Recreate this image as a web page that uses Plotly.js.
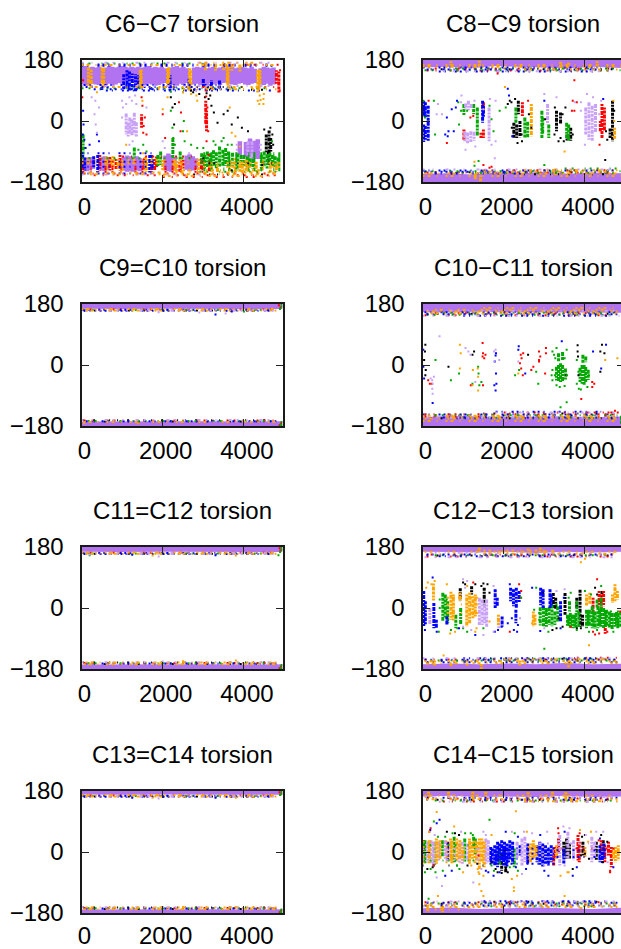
<!DOCTYPE html>
<html><head><meta charset="utf-8">
<script src="https://cdn.plot.ly/plotly-3.0.1.min.js"></script>
<style>html,body{margin:0;padding:0;background:#fff;overflow:hidden}#g{width:700px;height:949px}</style>
</head><body><div id="g"></div>
<script>
const titles=['C6\u2212C7 torsion','C8\u2212C9 torsion','C9=C10 torsion','C10\u2212C11 torsion','C11=C12 torsion','C12\u2212C13 torsion','C13=C14 torsion','C14\u2212C15 torsion'];
const xTicks=[0,2000,4000];
const yTicks=[-180,0,180];
const colors={purple:'#b273f0',lilac:'#c9a2f7',black:'#000000',red:'#ff0000',green:'#00a800',blue:'#0000ff',orange:'#ffa500'};

const p1_purpleCols=[30,108,160,110,104,162,190,106,158,270,110,160,350,108,158,430,106,160,510,112,156,600,106,158,680,110,162,760,104,160,840,108,158,920,112,160,1000,110,162,1080,118,160,1160,120,158,1240,122,160,1320,112,158,1400,110,160,1500,108,158,1580,106,160,1660,110,162,1740,108,158,1820,104,160,1900,106,158,1980,110,160,2060,112,156,2190,108,158,2270,106,160,2350,104,162,2430,110,158,2510,106,160,2590,112,156,2770,108,158,2850,110,160,2930,106,158,3010,108,162,3090,104,156,3170,112,158,3250,108,160,3330,110,156,3410,106,158,3490,112,160,3560,114,156,3630,110,158,3710,108,160,3790,106,156,3870,110,158,3950,112,160,4030,108,158,4110,106,156,4190,110,160,4270,112,154,4410,108,156,4490,106,160,4570,110,158,4650,104,156,4730,108,158,
60,-142,-112,130,-148,-108,210,-146,-106,280,-140,-112,500,-146,-108,570,-148,-104,640,-144,-112,1040,-146,-106,1120,-150,-102,1200,-148,-104,1280,-150,-108,1360,-146,-104,1440,-148,-110,1510,-144,-112,2070,-146,-102,2140,-148,-96,2210,-150,-100,2290,-146,-106,2590,-144,-102,2660,-148,-98,2740,-146,-104,2820,-142,-110,3900,-60,-100,4050,-62,-106,4150,-52,-108,4240,-58,-112,4340,-54,-112];
const p1_orangeCols=[170,104,158,240,100,152,510,102,165,545,100,158,1450,96,150,1470,100,152,2120,100,160,2150,104,158,2660,90,156,2690,96,150,3590,110,164,3610,104,158,4340,84,150,4375,96,155,4395,100,150,3050,150,172,3300,148,172,3500,150,170,3700,148,168,3900,146,170,780,-104,-140,1570,-106,-146,2280,-114,-150,2880,-112,-152,2340,-118,-150,3650,-116,-150,3780,-110,-156,3900,-118,-150,3960,-120,-154,4050,-114,-150,4110,-118,-150,4300,-120,-150,4450,-114,-146,4650,-120,-152,4800,-125,-150,1600,-112,-150,3200,-125,-150,3350,-130,-152,620,-105,-145,900,-112,-140,1000,-115,-150,2000,-115,-145,2460,-120,-150];
const p1_blueCols=[1040,94,138,1120,96,150,1180,90,146,1250,100,140,1330,88,138,1400,96,135,2180,96,136,2650,92,125,3000,100,125,3200,92,120,3400,96,122,30,-100,-152,80,-108,-146,300,-104,-140,400,-100,-152,1680,-100,-152,1740,-116,-142,2180,106,90,1700,100,92,500,100,90,1720,-100,-150];
const p1_redCols=[450,-100,-146,700,-106,-146,850,-112,-142,950,-100,-146,1550,-110,-140,1850,-105,-136,2500,-114,-140,2950,-110,-146,3150,-116,-150,4800,110,150,4860,84,146,1480,-20,20,3080,-30,30,3060,60,-10,1800,-112,-145,2420,-120,-150];
const p1_greenCols=[2960,-95,-130,3030,-100,-140,3100,-90,-136,3170,-95,-135,3250,-86,-132,3320,-92,-140,3400,-75,-136,3480,-85,-134,3550,-80,-132,3620,-90,-136,3720,-94,-132,3850,-96,-140,3930,-100,-135,4000,-100,-136,4080,-105,-145,4150,-110,-136,4220,-112,-140,4430,-100,-140,4500,-90,-132,4570,-98,-140,4640,-94,-130,4700,-100,-135,4770,-104,-136,4840,-108,-135,1300,-78,-108,2250,-50,-110,1950,-90,-130,40,-40,-100,1880,-100,-135,2430,-90,-115];
const p1_lilacCols=[1150,-5,-46,1190,10,-40,1240,5,-42,1290,-2,-40,1350,-4,-46,1100,22,-40,1300,24,-10,4100,-60,-100,4200,-60,-110];
const p1_blackCols=[4550,-40,-92,4620,-28,-96,4600,-90,-130,4660,-50,-90];
const p1_black=[2200,70,2240,40,2280,-10,2300,50,2700,90,2750,85,2900,80,3040,70,3080,82,3130,65,3170,75,3200,45,3260,25,3350,-5,3700,-10,3600,30,3500,20,3850,10,3950,-20,4100,-30,4500,-25,4650,-20,4700,-40,4720,-70,3000,-110,3150,-125,4450,-130,3700,-145];
const p1_red=[1480,70,1500,45,1490,5,1530,-15,1560,10,1520,-35,1600,-40,3060,90,3070,72,3100,40,3120,-30,3080,-60,3130,-100,2400,55,2450,25,2440,-30,2000,20,2060,-50,40,120,20,70,4880,90,4870,120,4890,150,3000,100];
const p1_blue=[40,30,50,-10,30,-40,70,-55,100,-80,200,-70,380,-40,430,-60];
const p1_green=[50,-60,60,-80,1400,-85,1520,-70,1600,-90,2200,30,2240,-20,2260,-50,2300,-70,2500,-30,2520,0,2540,-60,2700,-70,2850,-80,3000,-80,3250,-60,3300,-70,3450,-60,3500,-50,3600,-70,3700,-70,4690,-60,2500,85,2200,86];
const p1_orange=[380,85,2120,70,2500,85,2700,80,2830,75,2850,60,3650,40,3700,-35,3790,-45,3900,-75,4390,75,4340,60,4380,50,4410,62,4480,65,4480,50,4490,80,2600,-30,1500,60,1900,95,2000,35,1100,-70,1520,-95];
const p1_lilac=[250,70,340,60,430,40,320,20,350,-10,380,-35,1000,60,1020,40,1000,10,1100,50,1180,70,1240,60,1320,75,1350,50,1260,-60,1180,-70,1600,40,2820,90,2000,-60,2050,-80,2650,-95];
const p1_blueF=[0,4800,163,0,4600,167,100,3700,100,300,3600,94,50,3500,106,0,1900,-95,0,1900,-155,600,4700,90,0,1900,-120,0,1900,-135];
const p1_orangeF=[0,4800,165,200,4700,100,2900,4400,172,2500,4800,94,50,4800,-152,200,4800,-157,2000,4800,-162,2500,4500,-145,0,2900,-125,0,2900,-115,3000,4900,-135,3000,4900,-125];
const p1_greenF=[0,3000,170,0,4800,97,2900,4900,-150,3000,4900,-145,3000,4900,-100,3000,4900,-95,3000,4900,-110,3000,4900,-120,3000,4900,-130,3000,4900,-140,3000,4900,-115,3000,4900,-105,0,2900,-110];
const p1_redF=[3500,4900,166,4500,4950,100,50,4800,-155,300,4800,-160,2000,4700,-165,0,3000,-150,0,3000,-120,1000,3000,-105,0,3000,-135,0,3000,-142];
const p1_blackF=[2500,4800,92,2500,4700,-158,2000,4500,100,3000,4800,-125];
const p1_lilacF=[0,4800,172,0,3000,-158,0,4800,103,3800,4500,-85,3800,4500,-70];

const p2_upX=[0,600,1200,1800,2400,3000,3600,4200,4950];
const p2_upLo=[158,160,156,162,160,158,156,160,156];
const p2_dnHi=[-156,-154,-158,-152,-154,-150,-156,-152,-154];
const p2_blackCols=[2250,-5,-52,2320,-10,-50,2400,0,-48,2360,60,20,3650,-20,-58,3560,-40,-60,4680,60,-60,4620,-22,-50,3300,30,-30,3400,25,-10];
const p2_redCols=[1020,-25,-55,1500,-25,-50,1500,25,55,2460,55,15,4420,50,-50,4480,40,-30,4380,0,-30,1440,-35,-50];
const p2_greenCols=[2520,10,-52,2590,-2,-48,2940,30,-50,3110,-10,-50,3550,-5,-50,1020,50,15,1260,50,20,1350,40,-45,2300,40,-5,2960,10,-40,3600,-10,-60];
const p2_blueCols=[30,60,12,30,-10,-62,70,55,10,70,-15,-55,140,45,-58,1480,60,-5,1500,45,10,50,40,20];
const p2_lilacCols=[1060,52,35,1130,60,32,1200,50,35,1040,-30,-60,1110,-34,-66,1190,-30,-62,1270,-32,-58,4020,40,-40,4100,55,-55,4180,45,-60,4260,50,-35,1640,40,-60,3080,50,-10];
const p2_orangeCols=[2680,50,-45,4730,-20,-55,700,176,165,1400,178,160,3400,175,158,3600,172,160,4300,176,160,1300,-155,-172,3280,-140,-160,3600,-145,-158,1430,-160,-178];
const p2_black=[2100,50,2150,60,2190,55,2280,65,2340,-65,2450,-60,2200,-20,2440,-40,3450,20,3520,40,3480,-60,3700,-40,4550,-55,4520,-30,3400,-50,3350,-60,4500,-115,2620,20,2680,-20,3020,5,3260,40,3250,-40,4720,30];
const p2_red=[150,60,3740,120,3700,60,3740,30,3680,30,3800,55,4360,-70,1180,10,1250,15,2600,60,600,-65,1500,-130,1650,-138,1700,-135,1850,140];
const p2_green=[20,60,60,10,280,60,310,-40,900,-10,950,30,880,55,1100,30,1650,45,1700,5,1750,-30,1900,30,2050,40,1280,-132,1380,-118,3000,-130,4930,-150,4930,-165,4930,-175,4930,175,4930,168];
const p2_blue=[600,10,640,-30,770,-30,720,35,560,-40,620,-45,820,40,850,60,2100,95,2130,75,2210,-45,3000,60,4450,65];
const p2_orange=[2030,100,3500,-90,4700,60,4720,0,1280,-120];
const p2_lilac=[960,75,950,55,1280,60,1500,35,1660,65,1800,60,3000,80,3300,70,3900,55,4050,80,4200,70,4350,20,4400,60,3750,55,1060,-85,1300,-75,1700,-70,1800,-60,1780,-110,4000,-70,3900,30,480,20,380,50,350,20];
const p2_blueF=[100,4600,152,400,4300,146,0,4800,158,50,3000,-150,0,4800,-146,300,2500,-155];
const p2_orangeF=[0,4900,160,0,4900,165,2500,4800,152,50,4900,-155,1500,4800,-150,2500,4800,-145,0,4900,-162];
const p2_greenF=[50,4900,150,800,4800,155,50,4900,-148,800,4800,-153,3500,4950,-140];
const p2_redF=[100,4700,149,300,4600,155,100,4600,-152,1500,4800,-145];
const p2_blackF=[200,4700,153,50,4700,-151,2500,4500,-157];
const p2_lilacF=[500,4800,147,0,4800,-143];

const p3_upX=[0,1000,2000,3000,4000,4950];
const p3_upLo=[166,165,166,165,166,165];
const p3_dnHi=[-167,-166,-167,-166,-167,-166];
const p3_red=[4860,176,4900,170,4920,-172,4880,-178];
const p3_green=[4890,165,4930,172,4930,178,4900,-176,4930,-168,4930,-178,4000,158];
const p3_blue=[3300,149,3700,158];
const p3_orange=[60,-172,1400,-172];
const p3_black=[];
const p3_lilac=[1900,156,2900,155,3550,152];
const p3_blueF=[20,4800,163,100,4800,-166,50,4700,160];
const p3_orangeF=[0,4800,165,50,4800,-168,100,4800,161];
const p3_greenF=[80,4700,162,150,4700,-165];
const p3_redF=[200,4800,164,50,4800,-164];
const p3_blackF=[60,4700,161,40,4800,-163,300,4500,-167];
const p3_lilacF=[100,4800,163,0,4800,-162,100,4800,160];

const p4_upX=[0,700,1400,2100,2800,3500,4200,4950];
const p4_upLo=[156,155,158,155,156,157,155,154];
const p4_dnHi=[-154,-150,-152,-154,-152,-151,-154,-152];
const p4_greenCols=[3300,-5,-46,3350,0,-50,3400,5,-50,3450,0,-48,3520,-10,-44,3350,35,10,3450,38,15,3880,-8,-50,3930,0,-55,3980,0,-58,4020,-6,-50,4080,-14,-44,3950,30,5,4020,25,8,4930,170,146,4930,-146,-175,4900,-150,-175];
const p4_orangeCols=[];
const p4_blueCols=[];
const p4_red=[1480,65,1490,35,1480,25,1520,20,1550,30,2420,30,2480,35,2400,5,2440,20,2870,40,2900,25,2870,15,2870,10,2730,-5,3040,50,3040,35,2430,-10,2470,-30,2680,-15,140,-45,180,-55,230,-55,1190,-60,1490,-60,3020,-25,4180,-50,4230,-55,4180,-65,3910,-100,4580,-140,4650,-140,4740,-135];
const p4_black=[60,40,70,60,80,-15,70,-30,40,15,640,-5,1230,30,1270,40,3540,-30,3820,58,3820,40,3830,25,3840,-30,4380,40,4420,60,4480,35,4380,-20,2600,30];
const p4_lilac=[420,85,280,-35,240,-45,250,-55,240,-70,250,-85,200,-40,1060,50,1130,40,1180,30,1890,15,1800,45,1770,10,2360,10,1300,-50,1760,40];
const p4_green=[320,15,700,-45,900,-25,1230,-55,1370,-5,1380,-25,1450,-50,1400,-60,2280,-30,2380,-15,2800,-20,2850,-55,3200,-45,3200,-15,3180,-30,3200,40,3240,30,3270,20,3500,20,3800,15,3800,-55,3900,-72,3550,-110,3400,-125,3300,-60,3380,-65,3500,-62,3260,-30,3560,-30,3850,-70,4060,-65,3840,-20,4100,-30,3300,50,3550,45];
const p4_blue=[20,-5,40,-40,20,45,250,-112,1800,-75,1820,-55,1770,-60,1810,-25,1780,10,1800,28,1810,35,2360,45,2370,55,2530,-25,3430,70,4200,40,4400,-10,4520,60];
const p4_orange=[920,60,940,35,920,-10,1240,-15,1360,-10,1370,-35,1370,-75,1230,-60,2360,-25,4500,15,4800,20];
const p4_blueF=[100,4800,150,50,4800,156,1000,4600,145,0,4800,-146,500,4800,-155,1800,4400,-138];
const p4_orangeF=[100,4800,158,300,4800,163,200,4800,152,1500,4800,168,0,4800,-150,50,4800,-158,0,4800,-165,600,4700,-153];
const p4_greenF=[100,4900,148,500,4800,154,300,4800,-148,1000,4800,-156];
const p4_redF=[50,4700,147,300,4500,153,50,4900,-145,2000,4950,-140,50,4800,-152];
const p4_blackF=[100,4700,151,50,4800,-149,1500,4500,-143,200,4800,-157];
const p4_lilacF=[0,4900,145,1800,4800,-140,100,4800,-155,100,4800,160];

const p5_upX=[0,1000,2000,3000,4000,4950];
const p5_upLo=[166,165,166,165,166,165];
const p5_dnHi=[-167,-166,-167,-166,-167,-166];
const p5_red=[4880,176,4900,170,4920,-172,4880,-178];
const p5_green=[4890,165,4930,172,4930,178,4900,-176,4930,-168,4930,-178,200,156,4850,156];
const p5_blue=[1250,157,3300,156];
const p5_orange=[1750,155,3800,155,2500,-157,3800,-155];
const p5_black=[];
const p5_lilac=[1900,152,200,158,2000,-158];
const p5_blueF=[20,4800,162,100,4800,-164,50,4700,159];
const p5_orangeF=[0,4800,164,50,4800,-166,100,4800,160,100,4800,-161];
const p5_greenF=[80,4700,161,150,4700,-163];
const p5_redF=[200,4800,163,50,4800,-162];
const p5_blackF=[60,4700,160,40,4800,-161,300,4500,-165];
const p5_lilacF=[100,4800,162,0,4800,-160,100,4800,159];

const p6_upX=[0,700,1400,2100,2800,3500,4200,4950];
const p6_upLo=[166,165,164,166,162,166,164,166];
const p6_dnHi=[-166,-164,-166,-164,-166,-162,-166,-164];
const p6_blackCols=[930,58,22,1210,64,40,1520,60,10,3220,44,0,3510,44,-20,3280,30,-5,3880,54,-56,3940,-20,-56,4420,50,10,3800,30,0,2960,50,40];
const p6_redCols=[4350,50,5,4460,50,5,4400,40,0,4200,30,-10,4500,-50,-76];
const p6_greenCols=[500,45,-40,560,40,-30,620,20,-45,2900,2,-52,2980,5,-55,3050,0,-55,3120,2,-50,3190,10,-54,3260,-10,-50,3330,5,-40,3570,-20,-55,3640,-15,-58,3710,-20,-60,3780,-15,-58,3850,-10,-56,4040,-5,-60,4110,-5,-55,4180,5,-60,4250,-10,-62,4320,5,-60,4390,0,-55,4460,0,-60,4530,-5,-55,4600,-10,-60,4670,-15,-62,4740,-15,-55,4810,-15,-60,4880,-10,-55,820,-20,-60,940,0,-50,4400,30,0,4300,25,0,3800,20,-15,3620,20,-10,3600,-25,-50,3680,-20,-52,3750,-22,-55,4080,-10,-50,4220,-10,-55,4360,-5,-50,4500,-10,-55,4640,-15,-55,4780,-12,-50];
const p6_blueCols=[30,50,-54,70,20,-50,280,15,-60,340,-35,-60,600,-25,-50,1790,55,0,1840,30,5,2170,60,20,2240,55,5,2310,60,0,2380,50,15,2910,60,8,2970,55,0,3140,55,0,3170,40,5,3400,20,-40,1960,-25,-55,2300,-5,-45];
const p6_orangeCols=[270,72,22,700,48,-35,760,40,-40,1090,40,-55,1160,45,-45,1240,35,-30,1300,40,-25,920,45,20,2730,-10,-55,2770,-20,-50,4040,40,5,4120,45,10,4740,70,20,4800,50,25,4680,40,15,1870,-20,-50,1400,178,165,2000,170,160,2600,175,160,2900,178,165,3000,170,160,3200,172,160,130,-160,-170,300,-155,-170,700,-165,-175,1100,-155,-170,1450,-165,-180,2400,-155,-170,3600,-160,-175];
const p6_lilacCols=[1470,25,-50,1530,10,-45,1580,25,-55,180,0,-50,1880,-30,-60,1400,30,-50];
const p6_black=[1000,75,1050,70,1450,65,1500,72,1600,70,1650,45,3900,-60,4250,60,4300,40,3800,-60,3300,-60,3200,-65,3350,-30,3450,-55,1300,70];
const p6_red=[2420,30,2430,50,2380,70,1250,75,2150,-70,3650,-55,4300,85,4200,-70,4250,-78,4350,-75,4550,-70,4870,-10,4930,100,4930,175,4930,-170,4940,-175];
const p6_blue=[60,-65,250,90,350,-70,900,-60,1780,-70,1860,-65,1950,-55,2100,-45,2200,-30,2250,-65,2350,-50,2330,-70,2150,70,2700,60,2900,-68,3400,-60,3480,30,1300,-80];
const p6_green=[400,-70,700,-65,860,-60,1000,-60,1100,-70,1500,-60,2430,30,2750,-5,2800,60,3100,-70,3600,30,3650,45,4000,50,4150,40,4400,65,4100,-70,4300,-65,4700,-70,3800,-65,3300,10,3000,-120];
const p6_orange=[300,80,90,60,130,75,220,70,600,70,680,-75,800,-70,1100,65,2700,-45,520,-140,4100,-110,3900,135,4000,145,1300,-70,1330,-60,1650,-40];
const p6_lilac=[1000,85,1100,80,1050,60,1750,65,1780,20,1500,-80,1750,-70,1200,-65,1000,-55,2400,-30,3300,50,3500,55,3000,-60];
const p6_blueF=[100,4700,158,400,4000,153,100,4800,-160,50,4800,-153,1000,4500,-148];
const p6_orangeF=[50,4800,166,1500,4800,160,100,4800,-163,50,4800,-157,2000,4500,-152,1500,3000,170,600,1400,30,600,1400,10,600,1400,-15];
const p6_greenF=[300,4600,156,200,4800,-155,1500,4600,-150,2850,3350,-15,2850,3350,-35,3570,4900,-25,3570,4900,-40,3570,4900,-50,4000,4900,-10,400,700,25,400,700,0];
const p6_redF=[100,4700,152,200,4800,158,50,4800,-152,3800,4900,-147];
const p6_blackF=[100,4700,155,200,4600,-156,1500,4500,-150];
const p6_lilacF=[50,4800,150,0,4800,-148,300,4700,163];

const p7_upX=[0,1000,2000,3000,4000,4950];
const p7_upLo=[170,169,170,169,170,169];
const p7_dnHi=[-170,-169,-170,-169,-170,-169];
const p7_red=[4880,176,4900,170,4920,-172,4880,-178];
const p7_green=[4890,168,4930,172,4930,178,4900,-176,4930,-170,4930,-178];
const p7_blue=[1250,160,3300,160];
const p7_orange=[1750,160,3800,160,2500,-162,3800,-162];
const p7_black=[];
const p7_lilac=[1900,158,2000,-162];
const p7_blueF=[20,4800,166,100,4800,-167,50,4700,163];
const p7_orangeF=[0,4800,168,50,4800,-169,100,4800,164,100,4800,-164];
const p7_greenF=[80,4700,165,150,4700,-166];
const p7_redF=[200,4800,167,50,4800,-165];
const p7_blackF=[60,4700,164,40,4800,-164,300,4500,-168];
const p7_lilacF=[100,4800,166,0,4800,-163,100,4800,163];

const p8_upX=[0,700,1400,2100,2800,3500,4200,4950];
const p8_upLo=[164,166,162,164,162,166,162,164];
const p8_dnHi=[-166,-164,-168,-166,-164,-166,-168,-164];
const p8_blackCols=[30,35,-30,3480,30,-10,3550,40,-20,3620,25,-20,3950,30,-10,4450,35,-15,4280,30,-25,1880,0,-25,1950,-5,-55,2050,-30,-60,2020,10,-25];
const p8_redCols=[3350,40,-5,3260,15,-20,3830,50,-25,3860,30,-30,4400,35,-5,4490,20,-30,4650,15,-45,4580,30,-10,3230,-10,-40];
const p8_greenCols=[60,35,-35,300,30,-40,490,35,-15,780,45,-30,1040,40,-30,1300,40,-10,1260,45,20,1900,10,-40,2260,10,-45];
const p8_blueCols=[1680,15,-30,1780,20,-40,1850,30,-45,1950,35,-30,2020,30,-25,2080,25,-45,2150,35,-20,2220,30,-35,2590,25,-35,2820,20,-30,2890,30,-40,2960,25,-45,3030,20,-35,3100,10,-40,3170,20,-30,2400,20,-10,3480,10,-35,4370,20,-30,4470,25,-15,4430,0,-35,620,30,-25,1720,10,-35,1810,5,-35,1900,25,-25,2000,15,-40,2120,10,-30];
const p8_lilacCols=[130,30,-30,210,35,-35,270,30,-40,400,30,-25,560,35,-20,900,25,-30,980,30,-35,1110,25,-25,1560,40,-35,1620,35,-30,2450,40,-40,2520,45,-30,3380,50,-40,3580,60,-20,3720,35,-25,4170,45,-30,4240,30,-20,2330,30,-20];
const p8_orangeCols=[170,35,-20,340,40,-35,430,35,-20,690,40,-25,720,30,-30,840,40,-25,920,35,-20,1000,15,-25,1160,40,-35,1230,30,-20,1330,30,-25,1400,40,-50,1460,40,-30,1520,30,-45,2660,25,-30,2730,35,-20,2800,20,-15,3300,20,-20,4000,15,-15,4750,15,-30,4820,20,-25,4700,10,-20,150,178,160,640,178,155,1240,178,150,1560,178,150,2600,176,155,3200,178,160,3530,176,150,500,-150,-178,1140,-160,-170,130,-155,-175,3900,-162,-172];
const p8_black=[600,60,800,55,900,50,1700,-30,1800,-50,1850,-60,1950,-62,2100,-60,2050,-50,3900,-10,3930,45,4000,-5,4400,50,4440,-30,4550,30,4100,-20,250,-45,120,-50,1350,-35,4950,-5,4000,50,3700,-50];
const p8_red=[280,-40,200,70,170,60,1380,-10,3340,70,3350,55,3870,55,3820,10,4340,35,4620,-60,4620,-55];
const p8_green=[60,-60,200,-50,320,-60,500,-55,380,45,560,45,740,55,1050,55,1190,55,1240,50,850,-40,910,-50,1700,-40,1760,-55,2150,-45,280,90,1650,95,2270,55,2350,-55,150,-138,4930,-150,4930,-165,4930,-178,4930,165,4930,172,4930,178];
const p8_blue=[350,85,420,95,190,65,720,-55,560,-70,1560,-55,1620,-60,1750,-70,1900,-60,2050,60,2300,-45,2350,45,2550,-50,2900,50,3000,-55,3500,60,3800,-45,3100,-70,4370,40,4700,-45,3700,-70];
const p8_orange=[350,118,160,60,780,75,1000,-60,1360,-50,1200,-40,1380,-60,1700,50,2200,-80,2250,-105,2330,-70,2570,60,3570,-60,3600,-60,4150,60,4080,30,3880,65,3400,-70,1400,-95,1500,-70,1400,-65,2300,120,380,-130,2250,-115,1500,-130,1450,-115,3500,-130];
const p8_lilac=[300,50,950,60,1500,60,1560,50,2200,60,2500,60,2700,55,3070,60,3470,75,3620,70,4020,50,4280,60,4450,60,1450,-50,2450,-65,3000,-40,3500,-40,4560,-30,350,-75,1250,-90,480,-100];
const p8_blueF=[100,4800,160,1000,4600,154,50,4800,-158,100,4800,-150,1500,4500,-145,1650,3300,10,1650,3300,-5,1650,3300,-20,1650,3300,-35,3300,4600,5,3300,4600,-15];
const p8_orangeF=[50,4700,166,100,4800,156,100,4800,-162,50,4800,-155,300,1000,-170,2500,4800,150,0,1600,30,0,1600,15,0,1600,0,0,1600,-15,0,1600,-30,2600,3000,15,2600,3000,-10];
const p8_greenF=[300,4700,152,200,4800,-152,1500,4600,-160,0,1400,20,0,1400,-25];
const p8_redF=[100,4700,158,500,4700,149,50,4800,-148,1200,4800,-155,3200,4800,10];
const p8_blackF=[100,4700,154,200,4600,-153,1500,4500,-147,0,1500,-40];
const p8_lilacF=[50,4800,162,400,4800,148,0,4800,-160,100,4800,-146,0,1600,8,0,1600,-8,0,1600,-22,2300,4400,25];

function group(black,red,green,blue,orange,lilac){const o={};const a={black,red,green,blue,lilac,orange};Object.keys(a).forEach(k=>{if(a[k]&&a[k].length)o[k]=a[k];});return o;}
const panels=[
 {title:titles[0],purpleCols:p1_purpleCols,cols:group(p1_blackCols,p1_redCols,p1_greenCols,p1_blueCols,p1_orangeCols,p1_lilacCols),dots:group(p1_black,p1_red,p1_green,p1_blue,p1_orange,p1_lilac),fr:group(p1_blackF,p1_redF,p1_greenF,p1_blueF,p1_orangeF,p1_lilacF)},
 {title:titles[1],upX:p2_upX,upLo:p2_upLo,dnHi:p2_dnHi,cols:group(p2_blackCols,p2_redCols,p2_greenCols,p2_blueCols,p2_orangeCols,p2_lilacCols),dots:group(p2_black,p2_red,p2_green,p2_blue,p2_orange,p2_lilac),fr:group(p2_blackF,p2_redF,p2_greenF,p2_blueF,p2_orangeF,p2_lilacF)},
 {title:titles[2],upX:p3_upX,upLo:p3_upLo,dnHi:p3_dnHi,cols:{},dots:group(p3_black,p3_red,p3_green,p3_blue,p3_orange,p3_lilac),fr:group(p3_blackF,p3_redF,p3_greenF,p3_blueF,p3_orangeF,p3_lilacF)},
 {title:titles[3],upX:p4_upX,upLo:p4_upLo,dnHi:p4_dnHi,cols:group(null,null,p4_greenCols,p4_blueCols,p4_orangeCols,null),dots:group(p4_black,p4_red,p4_green,p4_blue,p4_orange,p4_lilac),fr:group(p4_blackF,p4_redF,p4_greenF,p4_blueF,p4_orangeF,p4_lilacF)},
 {title:titles[4],upX:p5_upX,upLo:p5_upLo,dnHi:p5_dnHi,cols:{},dots:group(p5_black,p5_red,p5_green,p5_blue,p5_orange,p5_lilac),fr:group(p5_blackF,p5_redF,p5_greenF,p5_blueF,p5_orangeF,p5_lilacF)},
 {title:titles[5],upX:p6_upX,upLo:p6_upLo,dnHi:p6_dnHi,cols:group(p6_blackCols,p6_redCols,p6_greenCols,p6_blueCols,p6_orangeCols,p6_lilacCols),dots:group(p6_black,p6_red,p6_green,p6_blue,p6_orange,p6_lilac),fr:group(p6_blackF,p6_redF,p6_greenF,p6_blueF,p6_orangeF,p6_lilacF)},
 {title:titles[6],upX:p7_upX,upLo:p7_upLo,dnHi:p7_dnHi,cols:{},dots:group(p7_black,p7_red,p7_green,p7_blue,p7_orange,p7_lilac),fr:group(p7_blackF,p7_redF,p7_greenF,p7_blueF,p7_orangeF,p7_lilacF)},
 {title:titles[7],upX:p8_upX,upLo:p8_upLo,dnHi:p8_dnHi,cols:group(p8_blackCols,p8_redCols,p8_greenCols,p8_blueCols,p8_orangeCols,p8_lilacCols),dots:group(p8_black,p8_red,p8_green,p8_blue,p8_orange,p8_lilac),fr:group(p8_blackF,p8_redF,p8_greenF,p8_blueF,p8_orangeF,p8_lilacF)}
];

const W=700,H=949,XMAX=4950;
const font={family:'"Liberation Sans",Arial,sans-serif',size:24,color:'#000'};
const lefts=[81.5,422.5],tops=[60,304,547,791],pw=201,ph=122;
const colDash={black:'3px,1px,2px,1px,4px,1px',red:'2px,1px,3px,1px,4px,1px',green:'4px,1px,3px,1px,2px,1px',blue:'3px,1px,4px,1px,2px,1px',orange:'2px,1px,4px,1px,3px,1px',lilac:'4px,1px,2px,1px,3px,1px'};
const frDash={black:'1px,9px,2px,14px,1px,7px',red:'2px,7px,1px,13px,2px,5px',green:'2px,5px,2px,11px,1px,4px',blue:'2px,4px,1px,9px,2px,3px',orange:'2px,3px,3px,6px,1px,8px',lilac:'2px,8px,1px,12px,3px,5px'};
const traces=[],layout={width:W,height:H,margin:{l:0,r:0,t:0,b:0},paper_bgcolor:'#fff',plot_bgcolor:'#fff',showlegend:false,font,annotations:[]};

function segs(flat){const x=[],y=[];for(let i=0;i<flat.length;i+=3){x.push(flat[i],flat[i],null);y.push(flat[i+1],flat[i+2],null);}return {x,y};}
function hsegs(flat){const x=[],y=[];for(let i=0;i<flat.length;i+=3){x.push(flat[i],flat[i+1],null);y.push(flat[i+2],flat[i+2],null);}return {x,y};}
function pairs(flat){const x=[],y=[];for(let i=0;i<flat.length;i+=2){x.push(flat[i]);y.push(flat[i+1]);}return {x,y};}

panels.forEach((p,i)=>{
  const c=i%2,r=Math.floor(i/2),s=i?String(i+1):'',xa='xaxis'+s,ya='yaxis'+s,xr='x'+s,yr='y'+s;
  const common={ticks:'inside',ticklen:7,tickwidth:1,tickcolor:'#222',mirror:'ticks',showline:true,linecolor:'#1a1a1a',linewidth:2,showgrid:false,zeroline:false,tickfont:font};
  layout[xa]=Object.assign({domain:[lefts[c]/W,(lefts[c]+pw)/W],range:[0,XMAX],anchor:yr,tickvals:xTicks,ticktext:xTicks.map(String),ticklabelstandoff:r===3?0:2,ticklabelshift:3},common);
  layout[ya]=Object.assign({domain:[1-(tops[r]+ph)/H,1-tops[r]/H],range:[-180,180],anchor:xr,tickvals:yTicks,ticktext:yTicks.map(v=>v<0?'\u2212'+(-v):String(v)),ticklabelstandoff:11},common);
  layout.annotations.push({text:p.title,xref:xr+' domain',yref:yr+' domain',x:0.5,y:1.30,xanchor:'center',yanchor:'middle',showarrow:false,font});
  if(p.purpleCols){const g=segs(p.purpleCols);traces.push({x:g.x,y:g.y,xaxis:xr,yaxis:yr,mode:'lines',line:{color:colors.purple,width:4.5},hoverinfo:'skip'});}
  if(p.upX){
    traces.push({x:p.upX.concat(p.upX.slice().reverse()),y:p.upX.map(()=>180).concat(p.upLo.slice().reverse()),xaxis:xr,yaxis:yr,mode:'lines',fill:'toself',fillcolor:colors.purple,line:{width:0},hoverinfo:'skip'});
    traces.push({x:p.upX.concat(p.upX.slice().reverse()),y:p.dnHi.concat(p.upX.map(()=>-180)),xaxis:xr,yaxis:yr,mode:'lines',fill:'toself',fillcolor:colors.purple,line:{width:0},hoverinfo:'skip'});
  }
  Object.keys(p.cols).forEach(k=>{const g=segs(p.cols[k]);traces.push({x:g.x,y:g.y,xaxis:xr,yaxis:yr,mode:'lines',line:{color:colors[k],width:3,dash:colDash[k]},hoverinfo:'skip'});});
  Object.keys(p.fr).forEach(k=>{const g=hsegs(p.fr[k]);traces.push({x:g.x,y:g.y,xaxis:xr,yaxis:yr,mode:'lines',line:{color:colors[k],width:2,dash:frDash[k]},hoverinfo:'skip'});});
  Object.keys(p.dots).forEach(k=>{const g=pairs(p.dots[k]);traces.push({x:g.x,y:g.y,xaxis:xr,yaxis:yr,mode:'markers',marker:{color:colors[k],size:2,symbol:'square',line:{width:0}},hoverinfo:'skip'});});
});
Plotly.newPlot('g',traces,layout,{staticPlot:true,displayModeBar:false});
</script></body></html>
